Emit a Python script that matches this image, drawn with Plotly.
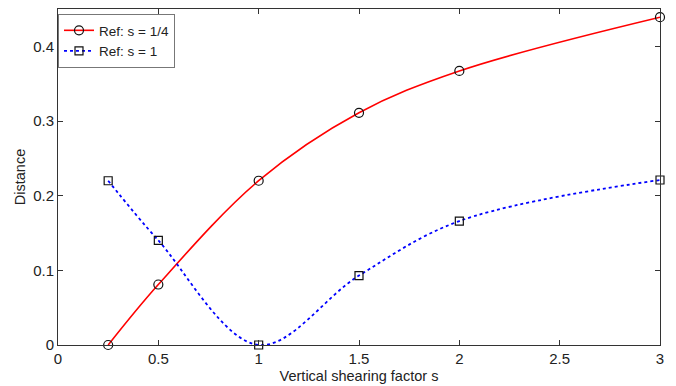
import plotly.graph_objects as go

# Vertical shearing factor values where distances were measured
shear = [0.25, 0.5, 1.0, 1.5, 2.0, 3.0]

# Distance to each reference configuration
dist_ref_quarter = [0.0, 0.081, 0.220, 0.311, 0.367, 0.439]
dist_ref_one = [0.220, 0.140, 0.0, 0.093, 0.166, 0.221]

x_ticks = [0, 0.5, 1, 1.5, 2, 2.5, 3]
y_ticks = [0, 0.1, 0.2, 0.3, 0.4]

family = "Liberation Sans, Arial, sans-serif"
tick_font = dict(family=family, size=15, color="#222")
title_font = dict(family=family, size=14.5, color="#222")
legend_font = dict(family=family, size=13.5, color="#222")

fig = go.Figure()
fig.add_trace(go.Scatter(
    x=shear, y=dist_ref_quarter, name="Ref: s = 1/4",
    mode="lines+markers", line=dict(color="#ff0000", width=1.6, shape="spline", smoothing=1.0),
    marker=dict(symbol="circle-open", size=9, color="#111", line=dict(width=1.2)),
    cliponaxis=False,
))
fig.add_trace(go.Scatter(
    x=shear, y=dist_ref_one, name="Ref: s = 1",
    mode="lines+markers", line=dict(color="#0000ff", width=1.8, dash="3px,3px", shape="spline", smoothing=1.0),
    marker=dict(symbol="square-open", size=8, color="#111", line=dict(width=1.2)),
    cliponaxis=False,
))

axis_common = dict(
    showgrid=False, zeroline=False, showline=True, linecolor="#333", linewidth=1,
    mirror="ticks", ticks="inside", ticklen=5, tickcolor="#333", tickfont=tick_font,
    automargin=False,
)
fig.update_xaxes(range=[0, 3], tickvals=x_ticks, ticktext=[f"{v:g}" for v in x_ticks],
                 title=dict(text="Vertical shearing factor s", font=title_font, standoff=4), **axis_common)
fig.update_yaxes(range=[0, 0.45], tickvals=y_ticks, ticktext=[f"{v:g}" for v in y_ticks],
                 title=dict(text="Distance", font=title_font, standoff=4), **axis_common)

fig.update_layout(
    width=676, height=386,
    margin=dict(l=58, r=16, t=9, b=41),
    plot_bgcolor="white", paper_bgcolor="white",
    font=tick_font,
    legend=dict(x=0.0, y=0.985, xanchor="left", yanchor="top",
                bgcolor="white", bordercolor="#777", borderwidth=1,
                font=legend_font, tracegroupgap=0, itemwidth=30),
)

fig.write_html("out.html")
